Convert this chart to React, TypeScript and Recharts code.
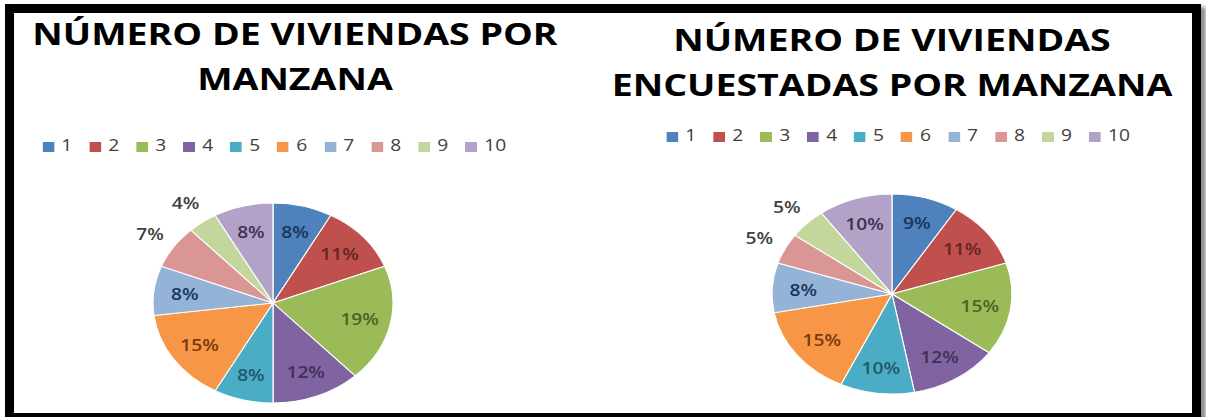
import { PieChart, Pie, Cell, Legend } from 'recharts';

const CATEGORIES = ['1', '2', '3', '4', '5', '6', '7', '8', '9', '10'];
const VIVIENDAS = [8, 11, 19, 12, 8, 15, 8, 7, 4, 8];
const ENCUESTADAS = [9, 11, 15, 12, 10, 15, 8, 5, 5, 10];

const COLORS = ['#4F81BD', '#C0504D', '#9BBB59', '#8064A2', '#4BACC6', '#F79646', '#95B3D7', '#D99694', '#C3D69B', '#B3A2C7'];
const LABEL_COLORS = ['#17365D', '#632523', '#4F6228', '#3F3151', '#215968', '#7B3A0A', '#17365D', '#404040', '#404040', '#3F3151'];

const FONT = '"Open Sans", Arial, sans-serif';
const RADIAN = Math.PI / 180;
const STRETCH = 1.2;

const buildData = (values: number[]) =>
  CATEGORIES.map((name, i) => ({ name, value: values[i], fill: COLORS[i] }));

const renderLabel = (props: any) => {
  const { cx, cy, midAngle, outerRadius, percent, value, index } = props;
  const outside = percent < 0.075;
  const r = outerRadius * (outside ? 1.24 : 0.74);
  const x = cx + r * Math.cos(-midAngle * RADIAN);
  const y = cy + r * Math.sin(-midAngle * RADIAN);
  return (
    <text
      x={x}
      y={y}
      textAnchor="middle"
      dominantBaseline="central"
      fill={outside ? '#404040' : LABEL_COLORS[index]}
      style={{ fontFamily: FONT, fontSize: 16, fontWeight: 600 }}
    >
      {value}%
    </text>
  );
};

interface PanelProps {
  lines: string[];
  values: number[];
  titleCenter: number;
  titleTop: number;
  left: number;
  top: number;
  legendTop: number;
  legendShift: number;
}

function Panel({ lines, values, titleCenter, titleTop, left, top, legendTop, legendShift }: PanelProps) {
  const data = buildData(values);
  return (
    <>
      <div
        style={{
          position: 'absolute',
          left: titleCenter - 350,
          top: titleTop,
          width: 700,
          textAlign: 'center',
          fontFamily: FONT,
          fontWeight: 700,
          fontSize: 30,
          lineHeight: '45px',
          color: '#000',
          transform: 'scaleX(1.25)',
          transformOrigin: 'center top',
        }}
      >
        {lines.map((l) => (
          <div key={l}>{l}</div>
        ))}
      </div>
      <div
        style={{
          position: 'absolute',
          left,
          top,
          transform: `scaleX(${STRETCH})`,
          transformOrigin: '0 0',
        }}
      >
        <PieChart width={400} height={300} margin={{ top: 0, right: 0, bottom: 0, left: 0 }}>
          <Legend
            verticalAlign="top"
            align="center"
            iconType="square"
            iconSize={10}
            itemSorter={(item: any) => CATEGORIES.indexOf(String(item.value))}
            wrapperStyle={{
              top: legendTop,
              left: legendShift - 30,
              width: 460,
              whiteSpace: 'nowrap',
              fontFamily: FONT,
              fontSize: 16,
            }}
            formatter={(value: string) => (
              <span style={{ color: '#404040', marginLeft: 2, marginRight: 4 }}>{value}</span>
            )}
          />
          <Pie
            data={data}
            dataKey="value"
            nameKey="name"
            cx={200}
            cy={170}
            outerRadius={100}
            startAngle={90}
            endAngle={-270}
            stroke="#ffffff"
            strokeWidth={1}
            labelLine={false}
            label={renderLabel}
            isAnimationActive={false}
          >
            {data.map((d, i) => (
              <Cell key={d.name} fill={COLORS[i]} />
            ))}
          </Pie>
        </PieChart>
      </div>
    </>
  );
}

export default function App() {
  return (
    <div
      style={{
        position: 'absolute',
        left: 0,
        top: 0,
        width: 1206,
        height: 417,
        overflow: 'hidden',
        background: '#fff',
      }}
    >
      <div
        style={{
          position: 'absolute',
          left: 5,
          top: 4,
          width: 1196,
          height: 418,
          boxSizing: 'border-box',
          border: '9px solid #000',
          boxShadow: '5px 3px 4px rgba(0,0,0,0.45)',
        }}
      />
      <Panel
        lines={['NÚMERO DE VIVIENDAS POR', 'MANZANA']}
        values={VIVIENDAS}
        titleCenter={295}
        titleTop={11}
        left={33}
        top={111}
        legendTop={23}
        legendShift={8}
      />
      <Panel
        lines={['NÚMERO DE VIVIENDAS', 'ENCUESTADAS POR MANZANA']}
        values={ENCUESTADAS}
        titleCenter={892}
        titleTop={17}
        left={652}
        top={102}
        legendTop={22}
        legendShift={12}
      />
    </div>
  );
}
